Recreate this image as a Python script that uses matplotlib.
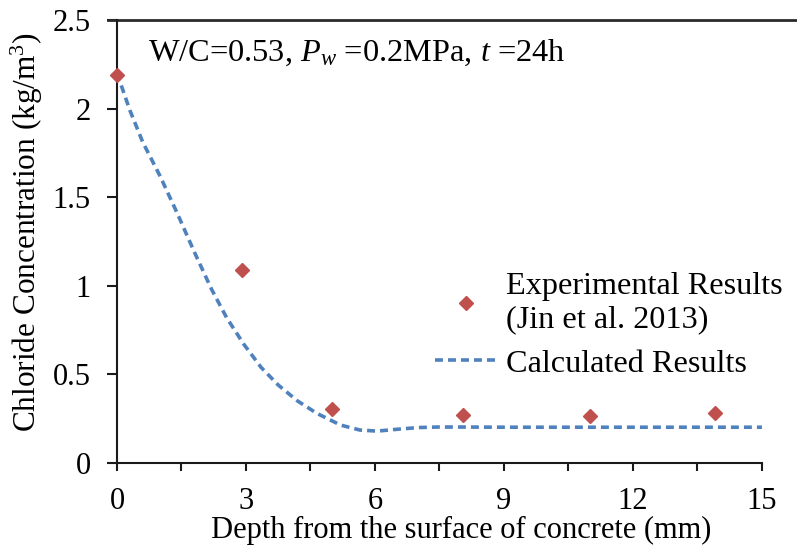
import numpy as np
import matplotlib.pyplot as plt
from matplotlib.lines import Line2D
from matplotlib.ticker import MultipleLocator

plt.rcParams["font.family"] = ["Liberation Serif", "DejaVu Serif"]
plt.rcParams["mathtext.fontset"] = "custom"
plt.rcParams["mathtext.rm"] = "Liberation Serif"
plt.rcParams["mathtext.it"] = "Liberation Serif:italic"

# experimental data (Jin et al. 2013)
exp_depth = [0, 2.9, 5.0, 8.05, 11.0, 13.9]
exp_conc = [2.19, 1.09, 0.305, 0.27, 0.268, 0.285]

# calculated profile
calc_depth = [0, 0.3, 0.6, 1.0, 1.4, 1.8, 2.2, 2.55, 2.95, 3.35, 3.75, 4.2, 4.65,
              5.2, 5.65, 6.05, 6.5, 7.0, 7.45, 8.0, 9, 10, 11, 12, 13, 14, 15]
calc_conc = [2.2, 1.99, 1.81, 1.62, 1.41, 1.19, 0.98, 0.82, 0.67, 0.54, 0.44, 0.35, 0.28,
             0.214, 0.186, 0.18, 0.19, 0.20, 0.203, 0.203, 0.202, 0.202, 0.202, 0.202,
             0.202, 0.202, 0.202]

fs = 22

fig = plt.figure(figsize=(7.97, 5.48), dpi=100)
ax = fig.add_axes([0.1468, 0.1551, 0.956 - 0.1468, 0.9635 - 0.1551])

ax.plot(calc_depth, calc_conc, linestyle=(0, (2.2, 1.4)), color="#4F81BD", linewidth=2.6,
        label="Calculated Results", zorder=2)
ax.plot(exp_depth, exp_conc, linestyle="none", marker="D", markersize=7.5, color="#C0504D",
        label="Experimental Results\n(Jin et al. 2013)", zorder=3, clip_on=False)

ax.set_xlim(0, 15)
ax.set_ylim(0, 2.5)
ax.xaxis.set_major_locator(MultipleLocator(3))
ax.xaxis.set_minor_locator(MultipleLocator(1.5))
ax.set_yticks([0, 0.5, 1, 1.5, 2, 2.5])
ax.set_yticklabels(["0", "0.5", "1", "1.5", "2", "2.5"])

for s in ["top", "right"]:
    ax.spines[s].set_visible(False)
for s in ["left", "bottom"]:
    ax.spines[s].set_linewidth(1.5)
    ax.spines[s].set_color("#1a1a1a")

# top border runs across the whole plot area
ax.add_line(Line2D([-0.014, 1.06], [1, 1], transform=ax.transAxes, color="#2a2a2a",
                   linewidth=2, clip_on=False))

ax.tick_params(axis="both", which="both", direction="out", width=1.5, color="#1a1a1a",
               labelsize=fs)
ax.tick_params(axis="y", length=7, pad=12)
ax.tick_params(axis="x", which="both", length=6, pad=11)

ax.set_xlabel("Depth from the surface of concrete (mm)", fontsize=fs, va="baseline")
ax.xaxis.set_label_coords(0.534, -0.169)
ax.set_ylabel("Chloride Concentration (kg/m$^3$)", fontsize=22.5)
ax.yaxis.set_label_coords(-0.112, 0.521)

ax.text(0.048, 0.925, r"W/C=0.53, $P_w$ =0.2MPa, $t$ =24h", transform=ax.transAxes,
        fontsize=23.3, va="center", ha="left")

handles, labels = ax.get_legend_handles_labels()
ax.legend(handles[::-1], labels[::-1], loc="upper left", bbox_to_anchor=(0.493, 0.431),
          frameon=False, fontsize=23.2, handlelength=1.92, handletextpad=0.3,
          labelspacing=0.45, borderpad=0, borderaxespad=0)

fig.savefig("out.png", dpi=100)
